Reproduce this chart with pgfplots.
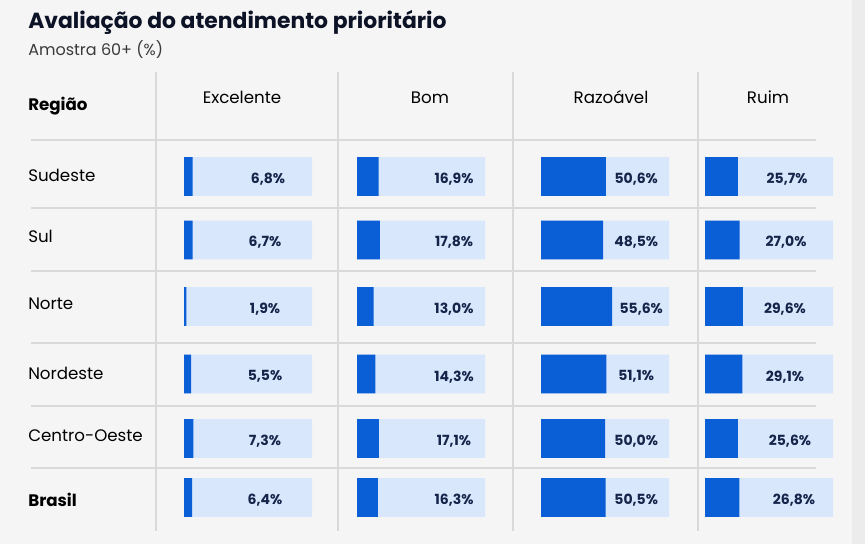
\documentclass[border=0pt]{standalone}
\usepackage{pgfplots}
\pgfplotsset{compat=1.18}
\usepackage{pgfplotstable}
\usepackage{fontspec}
\setmainfont{Poppins}
\definecolor{bgc}{HTML}{F5F5F5}
\definecolor{stripc}{HTML}{ECECEC}
\definecolor{gridc}{HTML}{D9D9D9}
\definecolor{darkb}{HTML}{0A5FD6}
\definecolor{lightb}{HTML}{D8E7FC}
\definecolor{labc}{HTML}{16244A}
\definecolor{titc}{HTML}{0D1326}
\definecolor{subc}{HTML}{3A3A3A}

\pgfplotstableread{
y full exc bom raz rui lexc lbom lraz lrui
176.5 100 6.8 16.9 50.6 25.7 65.6 75.8 74.4 64.1
240 100 6.7 17.8 48.5 27.0 63.3 75.8 74.4 63.3
306.5 100 1.9 13.0 55.6 29.6 63.3 75.8 78.3 62.5
374 100 5.5 14.3 51.1 29.1 63.3 75.8 74.4 62.5
438.5 100 7.3 17.1 50.0 25.6 63.3 75.8 74.4 66.4
497.5 100 6.4 16.3 50.5 26.8 63.3 75.8 74.4 69.5
}\data

\pgfplotsset{
  cellaxis/.style={scale only axis, width=96pt, height=408pt,
    xmin=0, xmax=100, ymin=0, ymax=544, y dir=reverse,
    axis lines=none, anchor=south west, clip=false, enlargelimits=false},
  bgbar/.style={xbar, bar width=28.9pt, bar shift=0pt, fill=lightb, draw=none},
  fgbar/.style={xbar, bar width=28.9pt, bar shift=0pt, fill=darkb, draw=none},
  lab/.style={draw=none, point meta=explicit,
    nodes near coords={\pgfmathprintnumber[fixed,fixed zerofill,precision=1,use comma,assume math mode=true]{\pgfplotspointmeta}\%},
    every node near coord/.append style={anchor=center, yshift=-2pt, font=\fontsize{10.5pt}{12pt}\selectfont\bfseries, text=labc, inner sep=0pt}}
}

\begin{document}
\begin{tikzpicture}
\begin{axis}[scale only axis, width=648.75pt, height=408pt,
  xmin=0, xmax=865, ymin=0, ymax=544, y dir=reverse,
  axis lines=none, clip=false, enlargelimits=false, anchor=south west, at={(0pt,0pt)}]
\fill[bgc] (axis cs:0,0) rectangle (axis cs:865,544);
\fill[stripc] (axis cs:852,0) rectangle (axis cs:865,544);
% grid
\foreach \xx in {156,338,513,698} {
  \edef\tmp{\noexpand\draw[gridc, line width=1.5pt] (axis cs:\xx,72) -- (axis cs:\xx,531);}\tmp
}
\foreach \yy in {140,208,271,343,406,468} {
  \edef\tmp{\noexpand\draw[gridc, line width=1.5pt] (axis cs:31,\yy) -- (axis cs:816,\yy);}\tmp
}
% titles
\node[anchor=base west, inner sep=0pt, text=titc, font=\fontsize{16.4pt}{19pt}\selectfont\bfseries] at (axis cs:28,28) {Avaliação do atendimento prioritário};
\node[anchor=base west, inner sep=0pt, text=subc, font=\fontsize{12pt}{14pt}\selectfont] at (axis cs:28,55) {Amostra 60+ (\%)};
% headers
\node[anchor=base west, inner sep=0pt, font=\fontsize{12.5pt}{14pt}\selectfont\bfseries] at (axis cs:28,110) {Região};
\node[anchor=base, inner sep=0pt, font=\fontsize{12.5pt}{14pt}\selectfont] at (axis cs:242,103) {Excelente};
\node[anchor=base, inner sep=0pt, font=\fontsize{12.5pt}{14pt}\selectfont] at (axis cs:430,103) {Bom};
\node[anchor=base, inner sep=0pt, font=\fontsize{12.5pt}{14pt}\selectfont] at (axis cs:611,103) {Razoável};
\node[anchor=base, inner sep=0pt, font=\fontsize{12.5pt}{14pt}\selectfont] at (axis cs:768,103) {Ruim};
% regions
\node[anchor=base west, inner sep=0pt, font=\fontsize{12.5pt}{14pt}\selectfont] at (axis cs:28,181) {Sudeste};
\node[anchor=base west, inner sep=0pt, font=\fontsize{12.5pt}{14pt}\selectfont] at (axis cs:28,242) {Sul};
\node[anchor=base west, inner sep=0pt, font=\fontsize{12.5pt}{14pt}\selectfont] at (axis cs:28,309) {Norte};
\node[anchor=base west, inner sep=0pt, font=\fontsize{12.5pt}{14pt}\selectfont] at (axis cs:28,379) {Nordeste};
\node[anchor=base west, inner sep=0pt, font=\fontsize{12.5pt}{14pt}\selectfont] at (axis cs:28,441) {Centro-Oeste};
\node[anchor=base west, inner sep=0pt, font=\fontsize{12.5pt}{14pt}\selectfont\bfseries] at (axis cs:28,506) {Brasil};
\end{axis}

\begin{axis}[cellaxis, at={(138pt,0pt)}]
\addplot[bgbar] table[x=full, y=y]{\data};
\addplot[fgbar] table[x=exc, y=y]{\data};
\addplot[lab] table[x=lexc, y=y, meta=exc]{\data};
\end{axis}
\begin{axis}[cellaxis, at={(267.75pt,0pt)}]
\addplot[bgbar] table[x=full, y=y]{\data};
\addplot[fgbar] table[x=bom, y=y]{\data};
\addplot[lab] table[x=lbom, y=y, meta=bom]{\data};
\end{axis}
\begin{axis}[cellaxis, at={(405.75pt,0pt)}]
\addplot[bgbar] table[x=full, y=y]{\data};
\addplot[fgbar] table[x=raz, y=y]{\data};
\addplot[lab] table[x=lraz, y=y, meta=raz]{\data};
\end{axis}
\begin{axis}[cellaxis, at={(528.75pt,0pt)}]
\addplot[bgbar] table[x=full, y=y]{\data};
\addplot[fgbar] table[x=rui, y=y]{\data};
\addplot[lab] table[x=lrui, y=y, meta=rui]{\data};
\end{axis}
\end{tikzpicture}
\end{document}
